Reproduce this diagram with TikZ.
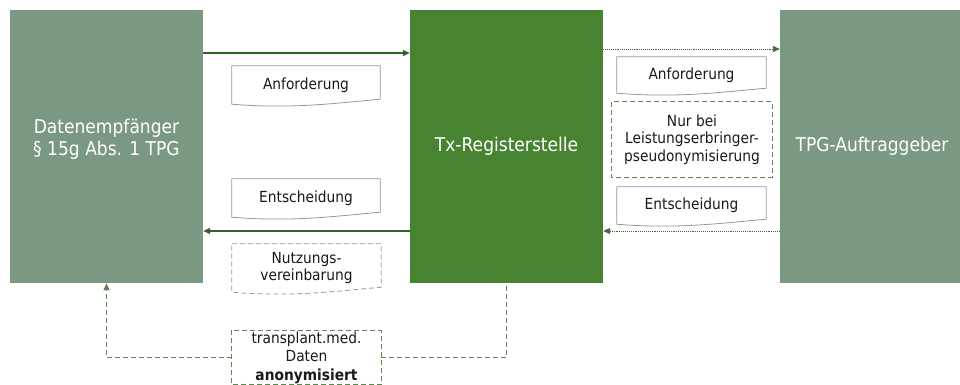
\documentclass[tikz,border=0pt]{standalone}
\usepackage{fontspec}
\setmainfont[FakeStretch=0.9]{DejaVu Sans}
\usetikzlibrary{arrows.meta}
\definecolor{boxgray}{RGB}{122,152,130}
\definecolor{boxgreen}{RGB}{71,131,49}
\definecolor{arrgreen}{RGB}{48,98,42}
\definecolor{dashgreen}{RGB}{88,138,78}
\definecolor{docgray}{RGB}{150,150,150}
\definecolor{txtc}{RGB}{25,25,25}
\newcommand\docoutline[2]{%
  \draw[#2] (#1.north west) -- (#1.north east) -- ([yshift=5pt]#1.south east)
    .. controls ([xshift=-45pt,yshift=1pt]#1.south east) and ([xshift=60pt,yshift=-5pt]#1.south west) .. (#1.south west) -- cycle;}
\begin{document}
\begin{tikzpicture}[x=1pt,y=-1pt,
  bigbox/.style={draw=none,minimum width=193pt,minimum height=273pt,inner sep=0pt},
  bigtxt/.style={text=white,font=\fontsize{19pt}{22pt}\selectfont,align=center},
  doctxt/.style={text=txtc,font=\fontsize{15.3pt}{17.5pt}\selectfont,align=center,inner sep=0pt},
  solidarrow/.style={draw=arrgreen,line width=1.2pt,-{Triangle[length=7pt,width=6pt]}},
  dotarrow/.style={draw=arrgreen!80!gray,line width=0.9pt,densely dotted,-{Triangle[length=7pt,width=6pt]}},
  docline/.style={draw=docgray,line width=0.8pt},
  docdash/.style={draw=docgray,line width=0.8pt,dash pattern=on 5pt off 3pt},
  greendash/.style={draw=dashgreen,line width=1pt,dash pattern=on 5pt off 3pt}]
\useasboundingbox (0,0) rectangle (960,385);
% big boxes
\node[bigbox,fill=boxgray] (left) at (106.5,146.5) {};
\node[bigbox,fill=boxgreen] (mid) at (506.5,146.5) {};
\node[bigbox,fill=boxgray] (right) at (876.5,146.5) {};
\node[bigtxt] (leftlbl) at (106.5,139) {Datenempfänger\\§ 15g Abs. 1 TPG};
\node[bigtxt] (midlbl) at (506.5,146.5) {Tx-Registerstelle};
\node[bigtxt] (rightlbl) at (872,146.5) {TPG-Auftraggeber};
% documents
\node[doctxt,minimum width=148pt,minimum height=38pt] (docA1) at (306,85) {Anforderung};
\node[doctxt,minimum width=148pt,minimum height=38pt] (docE1) at (306,198) {Entscheidung};
\node[doctxt,minimum width=149pt,minimum height=48pt] (docN) at (306.5,268) {Nutzungs-\\vereinbarung};
\node[doctxt,minimum width=149pt,minimum height=36pt] (docA2) at (691.5,75) {Anforderung};
\node[doctxt,minimum width=160pt,minimum height=75pt] (nur) at (692,139.5) {Nur bei\\Leistungserbringer-\\pseudonymisierung};
\node[doctxt,minimum width=149pt,minimum height=37pt] (docE2) at (691.5,205.5) {Entscheidung};
\node[doctxt,font=\fontsize{15.3pt}{18.5pt}\selectfont,minimum width=149pt,minimum height=54pt] (trans) at (306.5,357.5) {transplant.med.\\Daten\\\textbf{anonymisiert}};
\docoutline{docA1}{docline}
\docoutline{docE1}{docline}
\docoutline{docN}{docdash}
\docoutline{docA2}{docline}
\docoutline{docE2}{docline}
\draw[greendash] (nur.north west) rectangle (nur.south east);
\draw[greendash] (trans.north west) rectangle (trans.south east);
% arrows
\coordinate (yA) at (0,53);
\coordinate (yB) at (0,49);
\coordinate (yC) at (0,231);
\draw[solidarrow] (left.east |- yA) -- (mid.west |- yA);
\draw[dotarrow] (mid.east |- yB) -- (right.west |- yB);
\draw[solidarrow] (mid.west |- yC) -- (left.east |- yC);
\draw[dotarrow] (right.west |- yC) -- (mid.east |- yC);
\draw[greendash,-{Triangle[length=7pt,width=6pt]}] (trans.west) -| (left.south);
\draw[greendash] (trans.east) -| (mid.south);
\end{tikzpicture}
\end{document}
